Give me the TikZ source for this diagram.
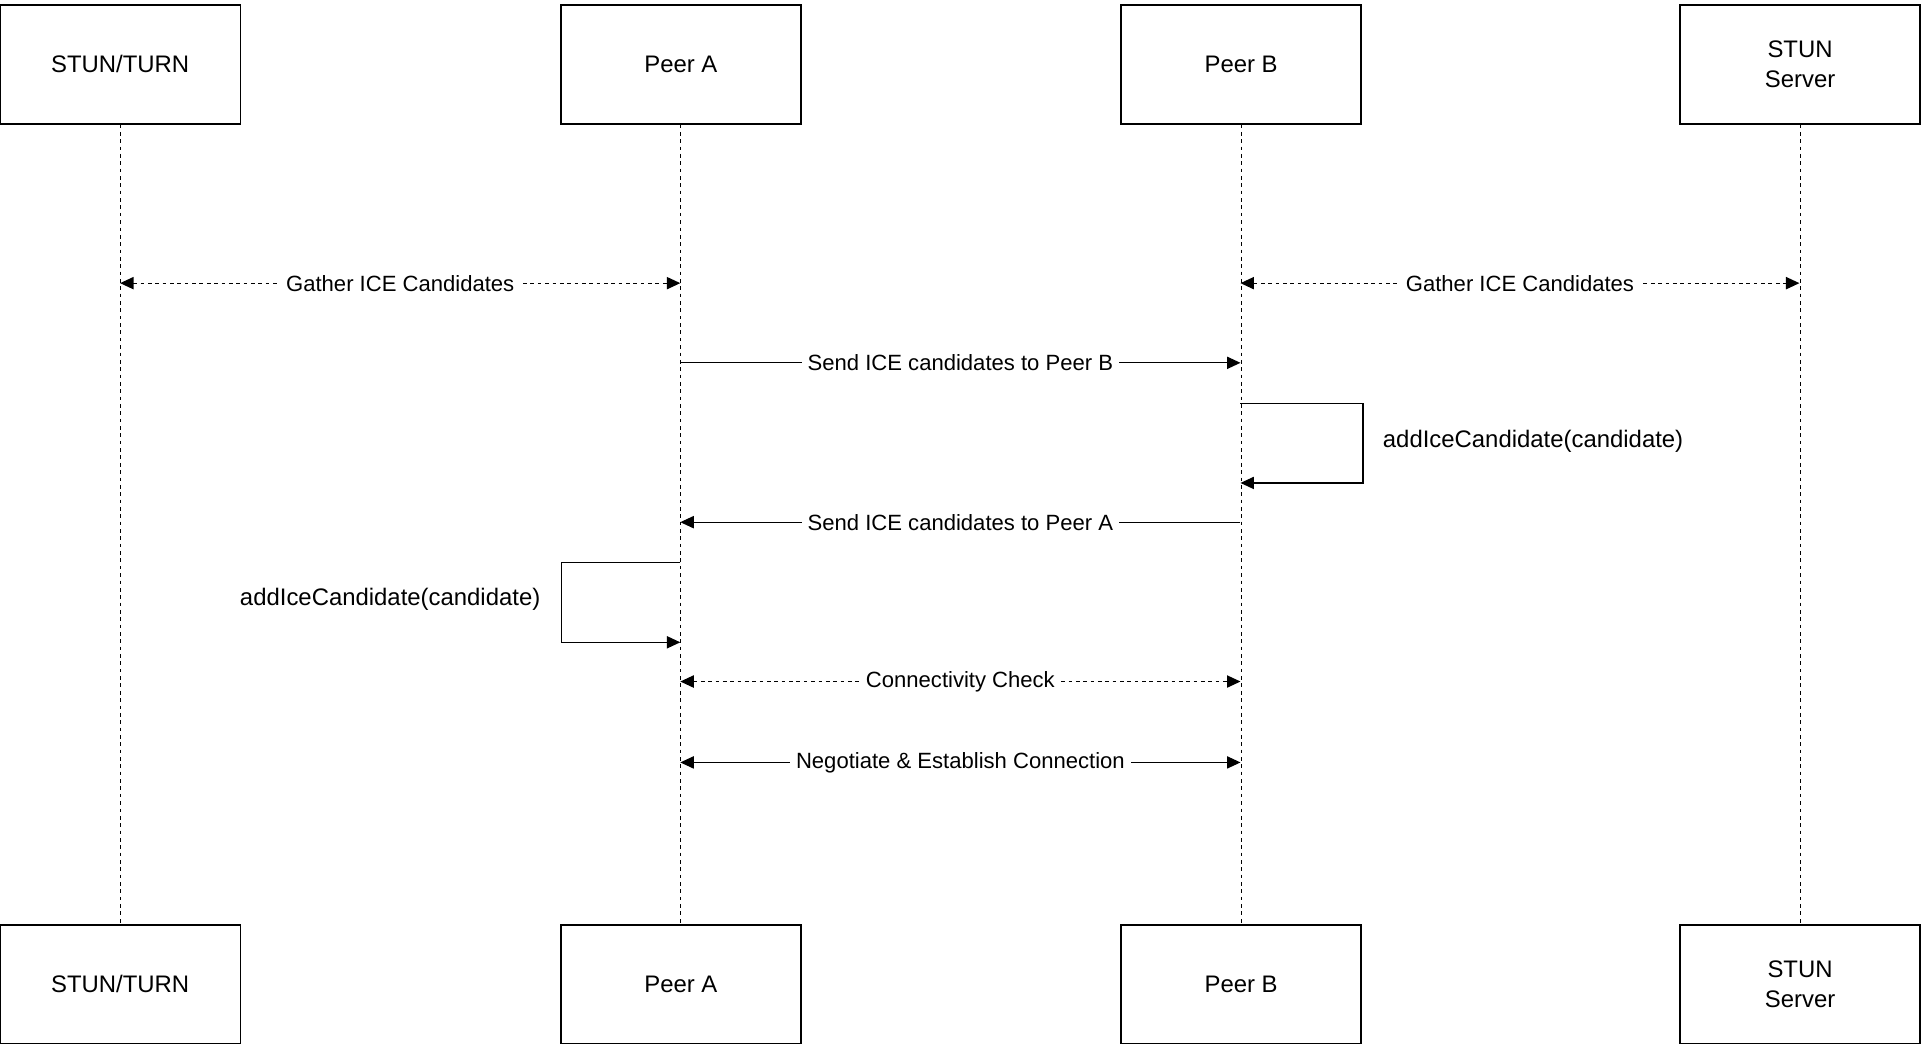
\documentclass[tikz,border=0pt]{standalone}
\usepackage{fontspec}
\setmainfont{Liberation Sans}
\usetikzlibrary{arrows.meta}
\begin{document}
\begin{tikzpicture}[x=1pt,y=-1pt,
  actor/.style={draw,line width=1.2pt,minimum width=196pt,minimum height=97pt,align=center,font=\fontsize{19.5}{24.5}\selectfont,inner sep=0pt},
  life/.style={dashed,line width=0.8pt},
  msg/.style={line width=1pt,-{Triangle[length=11pt,width=10pt]}},
  bmsg/.style={line width=1pt,{Triangle[length=11pt,width=10pt]}-{Triangle[length=11pt,width=10pt]}},
  lbl/.style={fill=white,font=\fontsize{18}{21}\selectfont,inner sep=5pt},
  slbl/.style={font=\fontsize{19.5}{23}\selectfont,inner sep=0pt}]
\useasboundingbox (0,0) rectangle (1568,853);
\node[actor] (t1) at (98,52.5) {STUN/TURN};
\node[actor] (a1) at (555.5,52.5) {Peer A};
\node[actor] (b1) at (1012.5,52.5) {Peer B};
\node[actor] (s1) at (1468.5,52.5) {STUN\\Server};
\node[actor] (t2) at (98,803) {STUN/TURN};
\node[actor] (a2) at (555.5,803) {Peer A};
\node[actor] (b2) at (1012.5,803) {Peer B};
\node[actor] (s2) at (1468.5,803) {STUN\\Server};
\foreach \p in {t,a,b,s} \draw[life] (\p1.south) -- (\p2.north);
\foreach \y/\n in {231/1,296/2,329/3,394/4,426/5,459/6,524/7,556/8,622/9}{
  \coordinate (t\n) at (98,\y); \coordinate (a\n) at (555,\y);
  \coordinate (b\n) at (1012,\y); \coordinate (s\n) at (1468,\y);}
\draw[bmsg,dashed] (t1) -- node[lbl]{Gather ICE Candidates} (a1);
\draw[bmsg,dashed] (b1) -- node[lbl]{Gather ICE Candidates} (s1);
\draw[msg] (a2) -- node[lbl]{Send ICE candidates to Peer B} (b2);
\draw[msg] (b3) -- ++(100,0) |- (b4);
\node[slbl,anchor=west] (lb) at (1128,360) {addIceCandidate(candidate)};
\draw[msg] (b5) -- node[lbl]{Send ICE candidates to Peer A} (a5);
\draw[msg] (a6) -- ++(-97,0) |- (a7);
\node[slbl,anchor=east] (la) at (441,489) {addIceCandidate(candidate)};
\draw[bmsg,dashed] (a8) -- node[lbl]{Connectivity Check} (b8);
\draw[bmsg] (a9) -- node[lbl]{Negotiate \& Establish Connection} (b9);
\end{tikzpicture}
\end{document}
